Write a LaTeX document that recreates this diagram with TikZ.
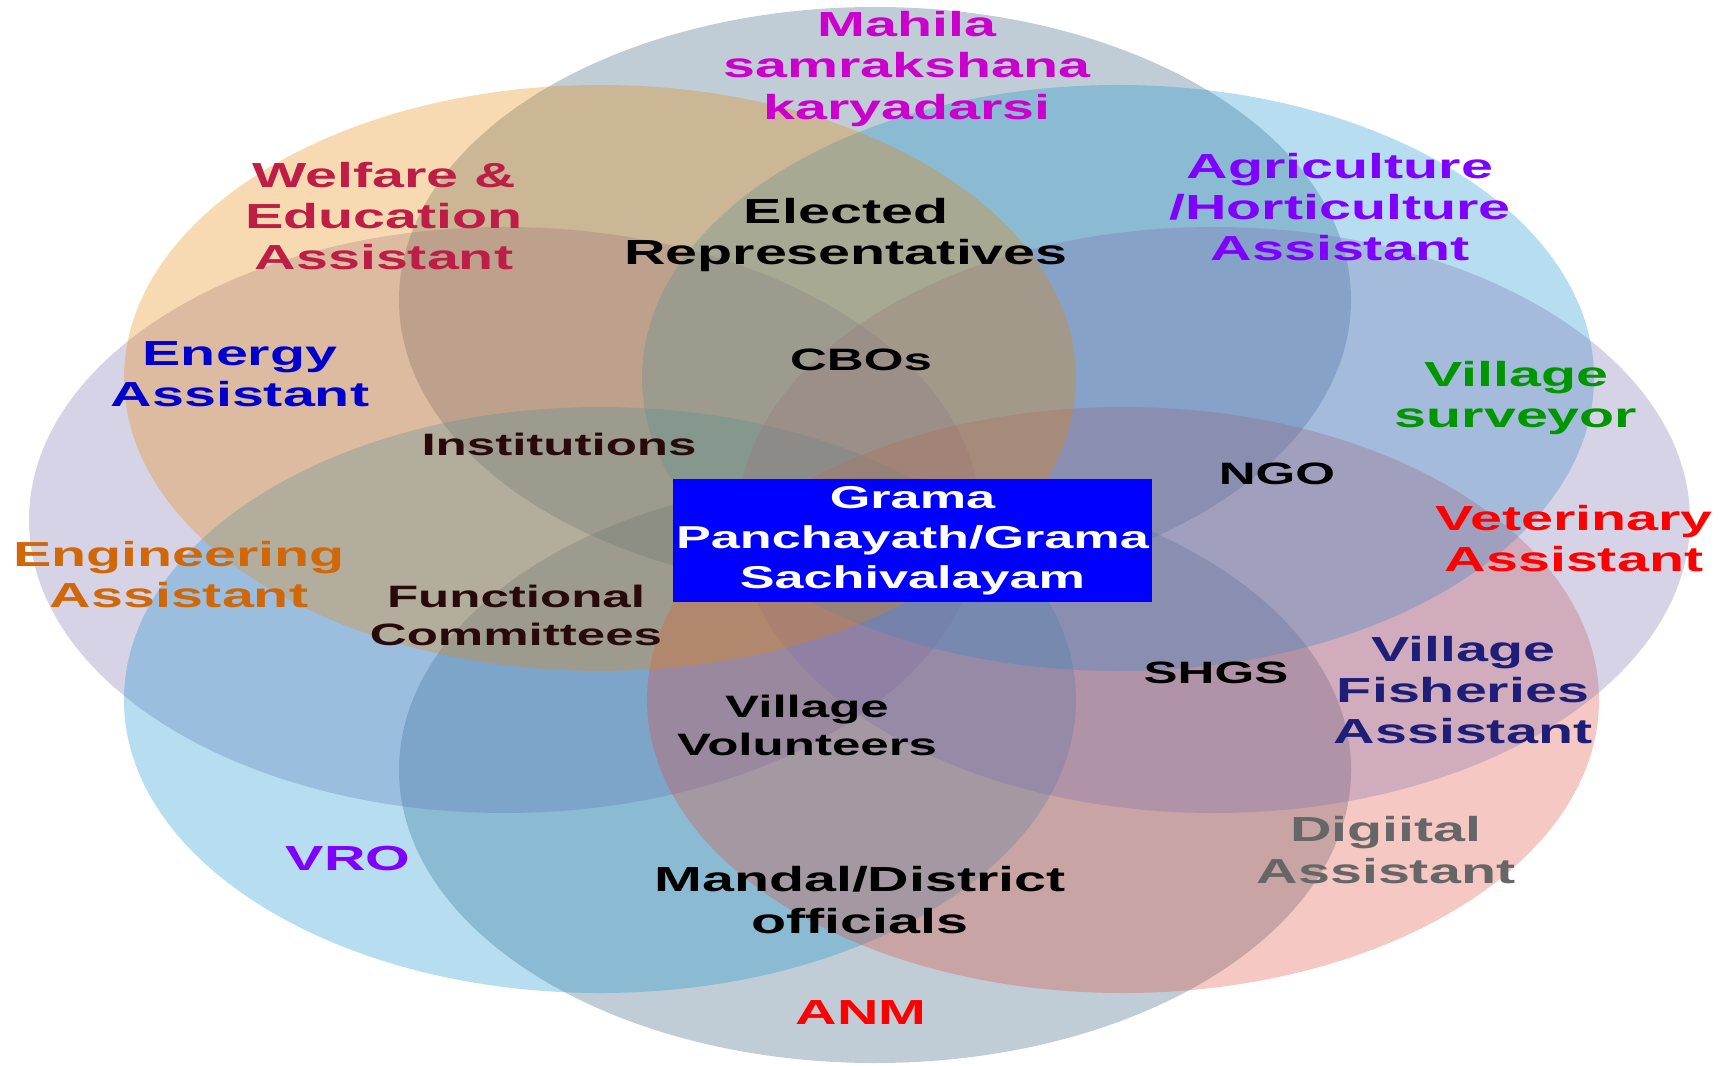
\documentclass[tikz,border=0pt]{standalone}
\usepackage{fontspec}
\setmainfont{Liberation Sans}
\definecolor{slate}{RGB}{45,85,118}
\definecolor{peach}{RGB}{232,132,0}
\definecolor{lilac}{RGB}{122,108,175}
\definecolor{sky}{RGB}{18,145,205}
\definecolor{rose}{RGB}{222,72,55}
\definecolor{mahilac}{RGB}{204,0,204}
\definecolor{welfarec}{RGB}{190,30,70}
\definecolor{agric}{RGB}{128,0,255}
\definecolor{energyc}{RGB}{0,0,204}
\definecolor{surveyc}{RGB}{0,150,0}
\definecolor{engc}{RGB}{208,104,10}
\definecolor{fishc}{RGB}{30,30,120}
\definecolor{digic}{RGB}{102,102,102}
\definecolor{ink}{RGB}{40,10,10}
\begin{document}
\begin{tikzpicture}[
  bigtext/.style={font=\fontsize{9.9}{11.7}\selectfont\bfseries, xscale=1.65, align=center, inner sep=0pt},
  smalltext/.style={font=\fontsize{8.8}{10.8}\selectfont\bfseries, xscale=1.65, align=center, inner sep=0pt},
  hub/.style={smalltext, fill=blue, text=white, minimum width=2.9cm, minimum height=1.22cm,
    font=\fontsize{9}{11.4}\selectfont\bfseries}
]
\useasboundingbox (0,0) rectangle (17.30,-10.66);
\begin{scope}[fill opacity=0.3]
  \fill[slate] (8.75,-3.00) ellipse [x radius=4.76, y radius=2.93];
  \fill[slate] (8.75,-7.70) ellipse [x radius=4.76, y radius=2.93];
  \fill[lilac] (5.05,-5.20) ellipse [x radius=4.76, y radius=2.93];
  \fill[sky]   (6.00,-7.00) ellipse [x radius=4.76, y radius=2.93];
  \fill[rose]  (11.23,-7.00) ellipse [x radius=4.76, y radius=2.93];
  \fill[sky]   (11.18,-3.78) ellipse [x radius=4.76, y radius=2.93];
  \fill[lilac] (12.14,-5.20) ellipse [x radius=4.76, y radius=2.93];
  \fill[peach] (6.00,-3.78) ellipse [x radius=4.76, y radius=2.93];
\end{scope}
\draw
  (9.07,-0.69) node[bigtext, text=mahilac] (mahila) {Mahila\\samrakshana\\karyadarsi}
  (3.84,-2.16) node[bigtext, text=welfarec] (welfare) {Welfare \&\\Education\\Assistant}
  (8.46,-2.35) node[bigtext] (elected) {Elected\\Representatives}
  (13.40,-2.07) node[bigtext, text=agric] (agri) {Agriculture\\/Horticulture\\Assistant}
  (2.40,-3.74) node[bigtext, text=energyc] (energy) {Energy\\Assistant}
  (15.16,-3.98) node[bigtext, text=surveyc] (surveyor) {Village\\surveyor}
  (15.74,-5.39) node[bigtext, text=red] (vet) {Veterinary\\Assistant}
  (1.79,-5.75) node[bigtext, text=engc] (engg) {Engineering\\Assistant}
  (14.63,-6.90) node[bigtext, text=fishc] (fish) {Village\\Fisheries\\Assistant}
  (13.86,-8.50) node[bigtext, text=digic] (digital) {Digiital\\Assistant}
  (3.48,-8.59) node[bigtext, text=agric] (vro) {VRO}
  (8.60,-9.00) node[bigtext] (mandal) {Mandal/District\\officials}
  (8.61,-10.13) node[bigtext, text=red] (anm) {ANM};
\draw
  (8.61,-3.60) node[smalltext] (cbos) {CBOs}
  (5.59,-4.44) node[smalltext, text=ink] (inst) {Institutions}
  (12.77,-4.74) node[smalltext] (ngo) {NGO}
  (5.16,-6.15) node[smalltext, text=ink] (func) {Functional\\Committees}
  (12.16,-6.73) node[smalltext] (shgs) {SHGS}
  (8.07,-7.25) node[smalltext] (vol) {Village\\Volunteers};
\draw (9.125,-5.405) node[hub] (gp) {Grama\\Panchayath/Grama\\Sachivalayam};
\end{tikzpicture}
\end{document}
